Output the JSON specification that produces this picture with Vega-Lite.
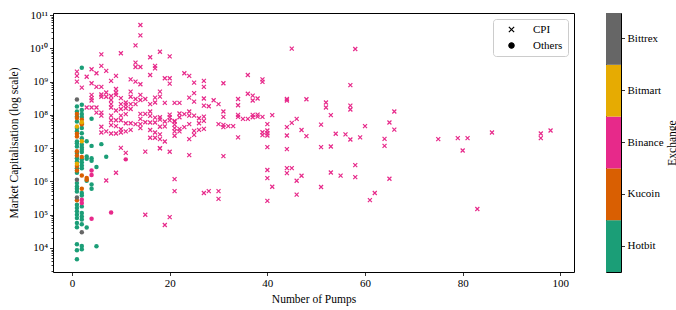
{
  "$schema": "https://vega.github.io/schema/vega-lite/v6.json",
  "padding": {"left": 7, "top": 8, "right": 0, "bottom": 0},
  "background": "white",
  "config": {
    "font": "Liberation Serif",
    "view": {"stroke": "black", "strokeWidth": 1},
    "axis": {"grid": false, "domain": false, "tickColor": "black", "tickWidth": 0.8, "labelColor": "black", "titleColor": "black", "labelFontSize": 11, "titleFontSize": 11.5, "titleFontWeight": "normal", "labelFont": "Liberation Serif", "titleFont": "Liberation Serif"},
    "legend": {"symbolFillColor": "black", "symbolStrokeColor": "black"}
  },
  "datasets": {
    "cpi": [
      {"x":14,"m":5e10,"e":"Binance"},{"x":14,"m":2.45e10,"e":"Binance"},{"x":13,"m":1.23e10,"e":"Binance"},{"x":6,"m":6.6e9,"e":"Binance"},{"x":10,"m":7.1e9,"e":"Binance"},{"x":16,"m":5.4e9,"e":"Binance"},{"x":18,"m":7.9e9,"e":"Binance"},{"x":20,"m":5.75e9,"e":"Binance"},{"x":45,"m":9.8e9,"e":"Binance"},{"x":58,"m":9.5e9,"e":"Binance"},
      {"x":13,"m":3.7e9,"e":"Binance"},{"x":13,"m":2.75e9,"e":"Binance"},{"x":14,"m":2.75e9,"e":"Binance"},{"x":17,"m":2.95e9,"e":"Binance"},{"x":17,"m":2.5e9,"e":"Binance"},{"x":6,"m":2.95e9,"e":"Binance"},{"x":1,"m":2.0e9,"e":"Binance"},{"x":1,"m":1.48e9,"e":"Binance"},{"x":1,"m":1.0e9,"e":"Binance"},{"x":4,"m":2.35e9,"e":"Binance"},
      {"x":5,"m":1.78e9,"e":"Binance"},{"x":7,"m":2.1e9,"e":"Binance"},{"x":3,"m":1.4e9,"e":"Binance"},{"x":9,"m":1.48e9,"e":"Binance"},{"x":8,"m":1.05e9,"e":"Binance"},{"x":12,"m":1.17e9,"e":"Binance"},{"x":13,"m":1.0e9,"e":"Binance"},{"x":14,"m":8.3e8,"e":"Binance"},{"x":16,"m":1.58e9,"e":"Binance"},{"x":4,"m":8.9e8,"e":"Binance"},
      {"x":19,"m":1.26e9,"e":"Binance"},{"x":20,"m":1.26e9,"e":"Binance"},{"x":20,"m":8.7e8,"e":"Binance"},{"x":23,"m":1.78e9,"e":"Binance"},{"x":24,"m":1.48e9,"e":"Binance"},{"x":25,"m":9.3e8,"e":"Binance"},{"x":27,"m":1.05e9,"e":"Binance"},{"x":27,"m":6.9e8,"e":"Binance"},{"x":31,"m":8.9e8,"e":"Binance"},{"x":36,"m":1.58e9,"e":"Binance"},
      {"x":39,"m":1.17e9,"e":"Binance"},{"x":39,"m":9.8e8,"e":"Binance"},{"x":57,"m":7.8e8,"e":"Binance"},{"x":2,"m":6.6e8,"e":"Binance"},{"x":5,"m":6.9e8,"e":"Binance"},{"x":6,"m":6.9e8,"e":"Binance"},{"x":7,"m":4.7e8,"e":"Binance"},{"x":9,"m":6.0e8,"e":"Binance"},{"x":9,"m":4.7e8,"e":"Binance"},{"x":9,"m":4.0e8,"e":"Binance"},
      {"x":4,"m":4.0e8,"e":"Binance"},{"x":4,"m":3.2e8,"e":"Binance"},{"x":4,"m":2.7e8,"e":"Binance"},{"x":6,"m":4.1e8,"e":"Binance"},{"x":6,"m":3.5e8,"e":"Binance"},{"x":7,"m":3.5e8,"e":"Binance"},{"x":8,"m":3.7e8,"e":"Binance"},{"x":8,"m":2.8e8,"e":"Binance"},{"x":10,"m":3.2e8,"e":"Binance"},{"x":11,"m":2.35e8,"e":"Binance"},
      {"x":12,"m":5.0e8,"e":"Binance"},{"x":12,"m":3.5e8,"e":"Binance"},{"x":14,"m":4.0e8,"e":"Binance"},{"x":13,"m":3.0e8,"e":"Binance"},{"x":13,"m":2.1e8,"e":"Binance"},{"x":15,"m":3.0e8,"e":"Binance"},{"x":16,"m":2.1e8,"e":"Binance"},{"x":17,"m":3.3e8,"e":"Binance"},{"x":17,"m":2.35e8,"e":"Binance"},{"x":18,"m":5.0e8,"e":"Binance"},
      {"x":18,"m":3.55e8,"e":"Binance"},{"x":14,"m":2.8e8,"e":"Binance"},{"x":8,"m":2.1e8,"e":"Binance"},{"x":8,"m":1.66e8,"e":"Binance"},{"x":10,"m":2.1e8,"e":"Binance"},{"x":10,"m":1.5e8,"e":"Binance"},{"x":11,"m":2.0e8,"e":"Binance"},{"x":11,"m":1.58e8,"e":"Binance"},{"x":12,"m":2.1e8,"e":"Binance"},{"x":12,"m":1.5e8,"e":"Binance"},
      {"x":3,"m":1.66e8,"e":"Binance"},{"x":4,"m":1.66e8,"e":"Binance"},{"x":5,"m":1.66e8,"e":"Binance"},{"x":5,"m":1.17e8,"e":"Binance"},{"x":6,"m":1.17e8,"e":"Binance"},{"x":6,"m":9.5e7,"e":"Binance"},{"x":8,"m":9.5e7,"e":"Binance"},{"x":9,"m":1.35e8,"e":"Binance"},{"x":10,"m":9.5e7,"e":"Binance"},{"x":11,"m":1.05e8,"e":"Binance"},
      {"x":14,"m":1.07e8,"e":"Binance"},{"x":14,"m":7.6e7,"e":"Binance"},{"x":15,"m":1.07e8,"e":"Binance"},{"x":16,"m":1.26e8,"e":"Binance"},{"x":16,"m":9.3e7,"e":"Binance"},{"x":17,"m":8.3e7,"e":"Binance"},{"x":19,"m":2.3e8,"e":"Binance"},{"x":21,"m":2.3e8,"e":"Binance"},{"x":22,"m":2.3e8,"e":"Binance"},{"x":24,"m":3.3e8,"e":"Binance"},
      {"x":25,"m":4.5e8,"e":"Binance"},{"x":25,"m":2.5e8,"e":"Binance"},{"x":27,"m":3.1e8,"e":"Binance"},{"x":27,"m":1.9e8,"e":"Binance"},{"x":28,"m":1.82e8,"e":"Binance"},{"x":29,"m":2.75e8,"e":"Binance"},{"x":30,"m":2.1e8,"e":"Binance"},{"x":34,"m":3.0e8,"e":"Binance"},{"x":34,"m":1.95e8,"e":"Binance"},{"x":36,"m":4.3e8,"e":"Binance"},
      {"x":37,"m":3.8e8,"e":"Binance"},{"x":38,"m":3.1e8,"e":"Binance"},{"x":37,"m":2.7e8,"e":"Binance"},{"x":44,"m":3.0e8,"e":"Binance"},{"x":44,"m":2.7e8,"e":"Binance"},{"x":48,"m":2.95e8,"e":"Binance"},{"x":52,"m":2.35e8,"e":"Binance"},{"x":52,"m":1.66e8,"e":"Binance"},{"x":57,"m":1.9e8,"e":"Binance"},{"x":57,"m":1.45e8,"e":"Binance"},
      {"x":66,"m":1.26e8,"e":"Binance"},{"x":20,"m":1.02e8,"e":"Binance"},{"x":20,"m":8.5e7,"e":"Binance"},{"x":22,"m":1.1e8,"e":"Binance"},{"x":22,"m":8.5e7,"e":"Binance"},{"x":23,"m":1.05e8,"e":"Binance"},{"x":24,"m":1.26e8,"e":"Binance"},{"x":24,"m":9.5e7,"e":"Binance"},{"x":25,"m":9.5e7,"e":"Binance"},{"x":26,"m":7.9e7,"e":"Binance"},
      {"x":27,"m":8.9e7,"e":"Binance"},{"x":27,"m":6.6e7,"e":"Binance"},{"x":31,"m":1.26e8,"e":"Binance"},{"x":31,"m":8.7e7,"e":"Binance"},{"x":34,"m":1.0e8,"e":"Binance"},{"x":34,"m":8.7e7,"e":"Binance"},{"x":35,"m":7.6e7,"e":"Binance"},{"x":36,"m":7.6e7,"e":"Binance"},{"x":37,"m":1.0e8,"e":"Binance"},{"x":37,"m":8.5e7,"e":"Binance"},
      {"x":38,"m":1.02e8,"e":"Binance"},{"x":38,"m":8.9e7,"e":"Binance"},{"x":39,"m":8.7e7,"e":"Binance"},{"x":41,"m":9.8e7,"e":"Binance"},{"x":53,"m":9.8e7,"e":"Binance"},{"x":18,"m":8.5e7,"e":"Binance"},{"x":21,"m":6.6e7,"e":"Binance"},
      {"x":6,"m":4.4e7,"e":"Binance"},{"x":6,"m":2.95e7,"e":"Binance"},{"x":7,"m":3.2e7,"e":"Binance"},{"x":8,"m":6.9e7,"e":"Binance"},{"x":8,"m":4.9e7,"e":"Binance"},{"x":9,"m":6.9e7,"e":"Binance"},{"x":9,"m":4.6e7,"e":"Binance"},{"x":10,"m":6.9e7,"e":"Binance"},{"x":10,"m":3.7e7,"e":"Binance"},{"x":11,"m":5.6e7,"e":"Binance"},
      {"x":11,"m":3.2e7,"e":"Binance"},{"x":12,"m":5.6e7,"e":"Binance"},{"x":12,"m":3.55e7,"e":"Binance"},{"x":13,"m":5.25e7,"e":"Binance"},{"x":14,"m":5.25e7,"e":"Binance"},{"x":14,"m":4.0e7,"e":"Binance"},{"x":15,"m":6.0e7,"e":"Binance"},{"x":16,"m":5.9e7,"e":"Binance"},{"x":17,"m":5.9e7,"e":"Binance"},{"x":17,"m":2.95e7,"e":"Binance"},
      {"x":18,"m":4.4e7,"e":"Binance"},{"x":8,"m":2.75e7,"e":"Binance"},{"x":9,"m":2.75e7,"e":"Binance"},{"x":10,"m":2.95e7,"e":"Binance"},{"x":16,"m":3.5e7,"e":"Binance"},{"x":16,"m":2.05e7,"e":"Binance"},{"x":17,"m":2.05e7,"e":"Binance"},{"x":18,"m":1.86e7,"e":"Binance"},{"x":10,"m":1.02e7,"e":"Binance"},{"x":11,"m":7.2e6,"e":"Binance"},
      {"x":15,"m":7.9e6,"e":"Binance"},{"x":18,"m":1.0e7,"e":"Binance"},{"x":9,"m":1.82e6,"e":"Binance"},{"x":7,"m":1.07e6,"e":"Binance"},{"x":18,"m":7.2e7,"e":"Binance"},{"x":18,"m":2.6e7,"e":"Binance"},{"x":18,"m":9.8e6,"e":"Binance"},{"x":19,"m":6.3e7,"e":"Binance"},{"x":19,"m":4.5e7,"e":"Binance"},{"x":19,"m":1.58e7,"e":"Binance"},
      {"x":20,"m":6.8e7,"e":"Binance"},{"x":20,"m":7.8e6,"e":"Binance"},{"x":21,"m":6.3e7,"e":"Binance"},{"x":21,"m":5.1e7,"e":"Binance"},{"x":21,"m":4.0e7,"e":"Binance"},{"x":21,"m":3.2e7,"e":"Binance"},{"x":21,"m":2.35e7,"e":"Binance"},{"x":22,"m":3.8e7,"e":"Binance"},{"x":22,"m":3.2e7,"e":"Binance"},{"x":23,"m":4.3e7,"e":"Binance"},
      {"x":24,"m":5.25e7,"e":"Binance"},{"x":24,"m":1.86e7,"e":"Binance"},{"x":25,"m":3.3e7,"e":"Binance"},{"x":25,"m":2.5e7,"e":"Binance"},{"x":26,"m":5.6e7,"e":"Binance"},{"x":26,"m":3.55e7,"e":"Binance"},{"x":27,"m":3.8e7,"e":"Binance"},{"x":30,"m":5.25e7,"e":"Binance"},{"x":31,"m":5.0e7,"e":"Binance"},{"x":31,"m":4.3e7,"e":"Binance"},
      {"x":32,"m":4.6e7,"e":"Binance"},{"x":33,"m":4.6e7,"e":"Binance"},{"x":34,"m":2.1e7,"e":"Binance"},{"x":24,"m":6.2e6,"e":"Binance"},{"x":31,"m":5.75e6,"e":"Binance"},{"x":21,"m":1.17e6,"e":"Binance"},{"x":21,"m":5.1e5,"e":"Binance"},
      {"x":15,"m":1.0e5,"e":"Binance"},{"x":20,"m":8.5e4,"e":"Binance"},{"x":19,"m":4.9e4,"e":"Binance"},{"x":27,"m":4.5e5,"e":"Binance"},{"x":28,"m":5.1e5,"e":"Binance"},{"x":30,"m":5.1e5,"e":"Binance"},{"x":30,"m":3.0e5,"e":"Binance"},
      {"x":40,"m":5.25e7,"e":"Binance"},{"x":44,"m":4.3e7,"e":"Binance"},{"x":45,"m":5.75e7,"e":"Binance"},{"x":46,"m":7.6e7,"e":"Binance"},{"x":47,"m":3.5e7,"e":"Binance"},{"x":51,"m":5.1e7,"e":"Binance"},{"x":60,"m":4.6e7,"e":"Binance"},{"x":65,"m":5.9e7,"e":"Binance"},{"x":66,"m":3.6e7,"e":"Binance"},{"x":40,"m":3.4e7,"e":"Binance"},
      {"x":40,"m":2.8e7,"e":"Binance"},{"x":40,"m":2.4e7,"e":"Binance"},{"x":44,"m":2.4e7,"e":"Binance"},{"x":48,"m":2.3e7,"e":"Binance"},{"x":54,"m":2.7e7,"e":"Binance"},{"x":56,"m":2.6e7,"e":"Binance"},{"x":57,"m":1.82e7,"e":"Binance"},{"x":59,"m":2.1e7,"e":"Binance"},{"x":64,"m":1.9e7,"e":"Binance"},{"x":64,"m":1.17e7,"e":"Binance"},
      {"x":75,"m":1.86e7,"e":"Binance"},{"x":79,"m":2.0e7,"e":"Binance"},{"x":81,"m":2.0e7,"e":"Binance"},{"x":86,"m":2.95e7,"e":"Binance"},{"x":96,"m":2.75e7,"e":"Binance"},{"x":96,"m":2.0e7,"e":"Binance"},{"x":98,"m":3.4e7,"e":"Binance"},{"x":80,"m":8.5e6,"e":"Binance"},{"x":83,"m":1.48e5,"e":"Binance"},{"x":39,"m":3.0e7,"e":"Binance"},
      {"x":39,"m":2.45e7,"e":"Binance"},{"x":40,"m":1.07e7,"e":"Binance"},{"x":44,"m":9.3e6,"e":"Binance"},{"x":51,"m":1.07e7,"e":"Binance"},{"x":53,"m":1.12e7,"e":"Binance"},{"x":58,"m":3.1e6,"e":"Binance"},{"x":40,"m":2.2e6,"e":"Binance"},{"x":40,"m":1.26e6,"e":"Binance"},{"x":44,"m":2.5e6,"e":"Binance"},{"x":44,"m":1.78e6,"e":"Binance"},
      {"x":45,"m":2.5e6,"e":"Binance"},{"x":47,"m":1.48e6,"e":"Binance"},{"x":46,"m":1.05e6,"e":"Binance"},{"x":53,"m":1.86e6,"e":"Binance"},{"x":55,"m":1.5e6,"e":"Binance"},{"x":58,"m":1.35e6,"e":"Binance"},{"x":65,"m":1.2e6,"e":"Binance"},{"x":41,"m":6.9e5,"e":"Binance"},{"x":51,"m":6.8e5,"e":"Binance"},{"x":46,"m":4.0e5,"e":"Binance"},
      {"x":62,"m":4.5e5,"e":"Binance"},{"x":61,"m":2.75e5,"e":"Binance"},{"x":40,"m":2.6e5,"e":"Binance"}
    ],
    "others": [
      {"x":2,"m":2.6e9,"e":"Hotbit"},{"x":1,"m":1.78e8,"e":"Hotbit"},{"x":2,"m":2.0e8,"e":"Hotbit"},{"x":2,"m":1.07e8,"e":"Hotbit"},{"x":2,"m":8.7e7,"e":"Hotbit"},{"x":4,"m":7.6e7,"e":"Hotbit"},
      {"x":1,"m":6.3e7,"e":"Hotbit"},{"x":1,"m":4.0e7,"e":"Hotbit"},{"x":1,"m":3.2e7,"e":"Hotbit"},{"x":2,"m":5.6e7,"e":"Hotbit"},{"x":2,"m":4.0e7,"e":"Hotbit"},{"x":2,"m":2.8e7,"e":"Hotbit"},
      {"x":1,"m":1.58e7,"e":"Hotbit"},{"x":1,"m":1.41e7,"e":"Hotbit"},{"x":1,"m":1.12e7,"e":"Hotbit"},{"x":2,"m":1.26e7,"e":"Hotbit"},{"x":2,"m":1.05e7,"e":"Hotbit"},{"x":3,"m":1.62e7,"e":"Hotbit"},
      {"x":4,"m":1.17e7,"e":"Hotbit"},{"x":6,"m":1.32e7,"e":"Hotbit"},{"x":1,"m":7.2e6,"e":"Hotbit"},{"x":1,"m":5.0e6,"e":"Hotbit"},{"x":1,"m":4.0e6,"e":"Hotbit"},{"x":2,"m":7.6e6,"e":"Hotbit"},
      {"x":2,"m":4.6e6,"e":"Hotbit"},{"x":2,"m":3.8e6,"e":"Hotbit"},{"x":2,"m":3.0e6,"e":"Hotbit"},{"x":2,"m":2.5e6,"e":"Hotbit"},{"x":3,"m":5.6e6,"e":"Hotbit"},{"x":3,"m":4.8e6,"e":"Hotbit"},
      {"x":4,"m":5.0e6,"e":"Hotbit"},{"x":4,"m":4.2e6,"e":"Hotbit"},{"x":5,"m":2.7e6,"e":"Hotbit"},{"x":7,"m":5.5e6,"e":"Hotbit"},{"x":1,"m":2.5e6,"e":"Hotbit"},{"x":1,"m":1.82e6,"e":"Hotbit"},
      {"x":1,"m":8.9e5,"e":"Hotbit"},{"x":1,"m":7.1e5,"e":"Hotbit"},{"x":1,"m":6.0e5,"e":"Hotbit"},{"x":1,"m":5.0e5,"e":"Hotbit"},{"x":2,"m":4.5e5,"e":"Hotbit"},{"x":2,"m":3.8e5,"e":"Hotbit"},
      {"x":3,"m":1.05e6,"e":"Hotbit"},{"x":4,"m":8.1e5,"e":"Hotbit"},{"x":4,"m":6.0e5,"e":"Hotbit"},{"x":1,"m":2.0e5,"e":"Hotbit"},{"x":1,"m":1.58e5,"e":"Hotbit"},{"x":1,"m":1.0e5,"e":"Hotbit"},
      {"x":1,"m":7.9e4,"e":"Hotbit"},{"x":1,"m":5.6e4,"e":"Hotbit"},{"x":2,"m":1.78e5,"e":"Hotbit"},{"x":2,"m":8.9e4,"e":"Hotbit"},{"x":2,"m":7.2e4,"e":"Hotbit"},{"x":2,"m":5.2e4,"e":"Hotbit"},
      {"x":3,"m":4.1e4,"e":"Hotbit"},{"x":1,"m":1.29e4,"e":"Hotbit"},{"x":1,"m":8.5e3,"e":"Hotbit"},{"x":2,"m":1.15e4,"e":"Hotbit"},{"x":2,"m":9.1e3,"e":"Hotbit"},{"x":5,"m":1.12e4,"e":"Hotbit"},
      {"x":1,"m":4.6e3,"e":"Hotbit"},{"x":1,"m":1.26e8,"e":"Hotbit"},{"x":1,"m":8.9e7,"e":"Hotbit"},{"x":2,"m":1.41e8,"e":"Hotbit"},{"x":1,"m":1.26e5,"e":"Hotbit"},{"x":2,"m":1.12e5,"e":"Hotbit"},
      {"x":2,"m":8.9e6,"e":"Hotbit"},{"x":1,"m":4.2e4,"e":"Hotbit"},{"x":2,"m":2.0e7,"e":"Hotbit"},
      {"x":1,"m":2.7e7,"e":"Kucoin"},{"x":1,"m":2.24e7,"e":"Kucoin"},{"x":1,"m":8.1e6,"e":"Kucoin"},{"x":1,"m":6.0e6,"e":"Kucoin"},{"x":1,"m":2.9e6,"e":"Kucoin"},{"x":1,"m":2.14e6,"e":"Kucoin"},
      {"x":2,"m":5.4e6,"e":"Kucoin"},{"x":2,"m":1.5e6,"e":"Kucoin"},{"x":3,"m":1.26e6,"e":"Kucoin"},{"x":3,"m":1.12e6,"e":"Kucoin"},{"x":2,"m":6.0e5,"e":"Kucoin"},{"x":1,"m":2.7e5,"e":"Kucoin"},
      {"x":1,"m":8.1e7,"e":"Kucoin"},{"x":2,"m":7.2e7,"e":"Kucoin"},{"x":1,"m":1.07e8,"e":"Kucoin"},{"x":2,"m":5.25e7,"e":"Kucoin"},
      {"x":2,"m":1.62e7,"e":"Bitmart"},{"x":1,"m":3.4e6,"e":"Bitmart"},{"x":1,"m":4.5e7,"e":"Bitmart"},{"x":2,"m":6.0e7,"e":"Bitmart"},
      {"x":1,"m":2.9e8,"e":"Bittrex"},{"x":1,"m":1.12e6,"e":"Bittrex"},{"x":2,"m":2.95e4,"e":"Bittrex"},{"x":1,"m":3.3e5,"e":"Bittrex"},
      {"x":4,"m":2.14e6,"e":"Binance"},{"x":4,"m":1.55e6,"e":"Binance"},{"x":2,"m":2.8e5,"e":"Binance"},{"x":2,"m":2.24e5,"e":"Binance"},{"x":4,"m":7.6e4,"e":"Binance"},{"x":8,"m":1.17e5,"e":"Binance"},
      {"x":11,"m":4.6e6,"e":"Binance"}
    ],
    "ex": [{"e":"Hotbit"},{"e":"Kucoin"},{"e":"Binance"},{"e":"Bitmart"},{"e":"Bittrex"}]
  },
  "spacing": 30,
  "resolve": {"scale": {"shape": "independent", "color": "independent"}, "legend": {"shape": "independent", "color": "independent"}},
  "hconcat": [
    {
      "width": 521,
      "height": 259,
      "layer": [
        {
          "data": {"name": "cpi"},
          "mark": {"type": "point", "filled": true, "strokeWidth": 1.2, "size": 16, "opacity": 1},
          "encoding": {
            "x": {"field": "x", "type": "quantitative", "scale": {"domain": [-3.9, 102.8], "nice": false, "zero": false},
                  "axis": {"values": [0, 20, 40, 60, 80, 100], "tickSize": 3.5, "labelPadding": 2, "titlePadding": 5, "title": "Number of Pumps"}},
            "y": {"field": "m", "type": "quantitative", "scale": {"type": "log", "domain": [1900, 1.15e11], "nice": false},
                  "axis": {"title": "Market Capitalisation (log scale)", "labelOverlap": false, "labelPadding": 2, "titlePadding": 10,
                           "values": [2000,3000,4000,5000,6000,7000,8000,9000,10000,20000,30000,40000,50000,60000,70000,80000,90000,100000,200000,300000,400000,500000,600000,700000,800000,900000,1000000,2000000,3000000,4000000,5000000,6000000,7000000,8000000,9000000,1e7,2e7,3e7,4e7,5e7,6e7,7e7,8e7,9e7,1e8,2e8,3e8,4e8,5e8,6e8,7e8,8e8,9e8,1e9,2e9,3e9,4e9,5e9,6e9,7e9,8e9,9e9,1e10,2e10,3e10,4e10,5e10,6e10,7e10,8e10,9e10,1e11],
                           "tickSize": {"condition": {"test": "abs(log(datum.value)/LN10 - round(log(datum.value)/LN10)) < 0.001", "value": 3.5}, "value": 2},
                           "labelExpr": "abs(log(datum.value)/LN10 - round(log(datum.value)/LN10)) < 0.001 ? '10' + ['⁰','¹','²','³','⁴','⁵','⁶','⁷','⁸','⁹','¹⁰','¹¹'][round(log(datum.value)/LN10)] : ''"}},
            "fill": {"field": "e", "type": "nominal", "scale": {"domain": ["Hotbit", "Kucoin", "Binance", "Bitmart", "Bittrex"], "range": ["#1b9e77", "#d95f02", "#e7298a", "#e6ab02", "#666666"]}, "legend": null},
            "stroke": {"field": "e", "type": "nominal", "scale": {"domain": ["Hotbit", "Kucoin", "Binance", "Bitmart", "Bittrex"], "range": ["#1b9e77", "#d95f02", "#e7298a", "#e6ab02", "#666666"]}, "legend": null},
            "shape": {"datum": "CPI", "type": "nominal",
                      "scale": {"domain": ["CPI", "Others"], "range": ["M-1,-1L1,1M-1,1L1,-1", "circle"]},
                      "legend": {"title": null, "orient": "top-right", "offset": 6, "fillColor": "white", "strokeColor": "#cccccc", "cornerRadius": 3, "padding": 5,
                                 "labelFontSize": 11, "labelFont": "Liberation Serif", "labelColor": "black", "symbolSize": 28, "symbolStrokeWidth": 1.2,
                                 "symbolFillColor": "black", "symbolStrokeColor": "black", "rowPadding": 4, "symbolOffset": 8, "labelOffset": 16}}
          }
        },
        {
          "data": {"name": "others"},
          "mark": {"type": "point", "filled": true, "size": 20, "opacity": 1, "strokeWidth": 0},
          "encoding": {
            "x": {"field": "x", "type": "quantitative"},
            "y": {"field": "m", "type": "quantitative"},
            "shape": {"datum": "Others", "type": "nominal"},
            "fill": {"field": "e", "type": "nominal", "legend": null},
            "stroke": {"field": "e", "type": "nominal", "legend": null}
          }
        }
      ]
    },
    {
      "width": 15,
      "height": 259,
      "data": {"name": "ex"},
      "mark": {"type": "rect"},
      "encoding": {
        "y": {"field": "e", "type": "nominal", "sort": ["Bittrex", "Bitmart", "Binance", "Kucoin", "Hotbit"], "scale": {"paddingInner": 0, "paddingOuter": 0},
              "axis": {"orient": "right", "title": "Exchange", "titleAngle": 270, "titlePadding": 14, "tickSize": 3.5, "labelPadding": 2.5}},
        "color": {"field": "e", "type": "nominal",
                  "scale": {"domain": ["Hotbit", "Kucoin", "Binance", "Bitmart", "Bittrex"], "range": ["#1b9e77", "#d95f02", "#e7298a", "#e6ab02", "#666666"]},
                  "legend": null}
      }
    }
  ]
}
